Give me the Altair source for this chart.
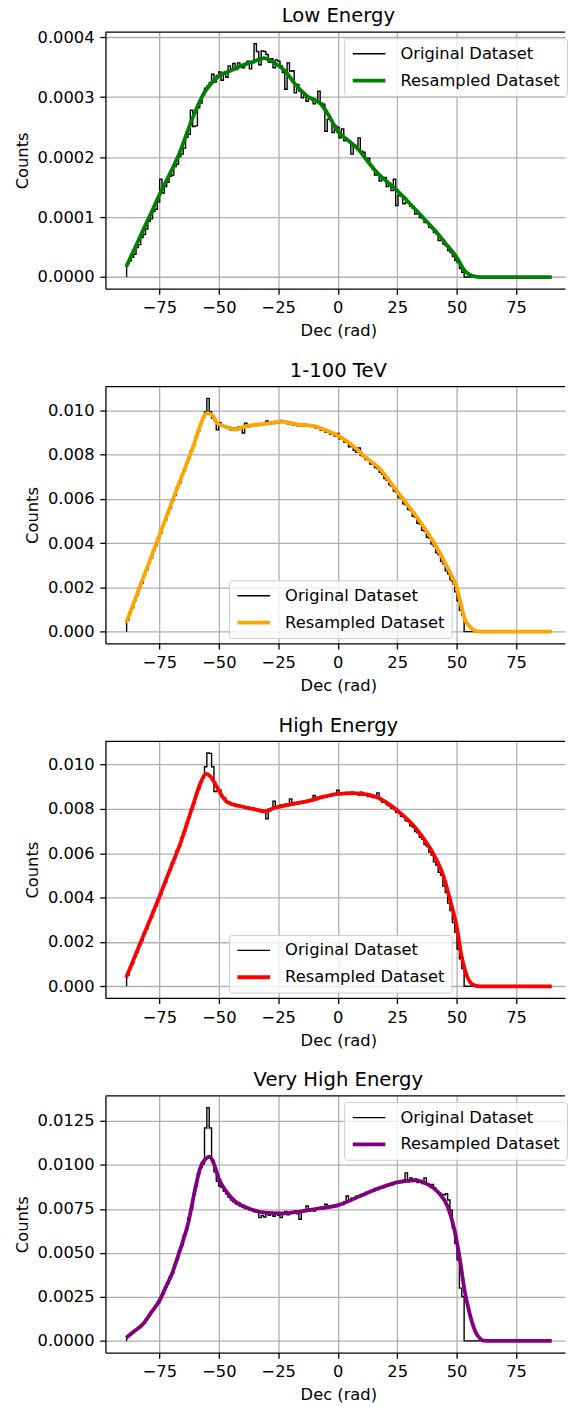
import numpy as np
import pandas as pd
import altair as alt

# ---------------------------------------------------------------------------
# Histogram binning: 180 equal bins across the declination range
N_BINS = 180
BIN_LO, BIN_HI = -88.8, 89.9

# Bins north of the detector horizon are empty in every sample
EMPTY_NORTH = [0, 0, 0, 0, 0, 0, 0, 0, 0, 0, 0, 0, 0, 0, 0, 0, 0, 0, 0,
               0, 0, 0, 0, 0, 0, 0, 0, 0, 0, 0, 0, 0, 0, 0, 0, 0, 0]

# --- Low Energy (counts x 1e-6) ---------------------------------------------
LOW_HIST = [
    22, 27, 33, 38, 49, 54, 66, 71, 80,
    93, 97, 109, 113, 125, 163, 140, 151, 158, 168,
    170, 184, 188, 201, 205, 215, 233, 238, 278, 251,
    252, 282, 290, 303, 315, 318, 324, 338, 325, 336,
    342, 328, 341, 333, 352, 347, 356, 346, 357, 352,
    349, 356, 360, 347, 357, 389, 376, 354, 377, 376,
    371, 358, 364, 349, 362, 360, 352, 341, 313, 357,
    343, 344, 307, 321, 310, 299, 303, 293, 299, 296,
    289, 293, 310, 290, 288, 243, 263, 262, 241, 252,
    250, 232, 247, 227, 228, 226, 205, 220, 218, 232,
    210, 208, 196, 198, 186, 180, 170, 172, 160, 165,
    166, 151, 156, 144, 163, 119, 136, 135, 122, 124,
    124, 118, 115, 105, 107, 99, 98, 91, 91, 83,
    82, 74, 72, 61, 63, 55, 52, 44, 41, 34,
    28, 24, 14, 8,
]
LOW_RES_X = [-89, -85, -82, -78, -75, -72, -70, -66.7, -62.6, -60, -58, -56, -54,
             -52, -50, -47, -44, -40, -35, -31, -27, -22, -18, -13, -7, -4, 0, 4,
             8.6, 13, 17, 21, 25, 29, 33.8, 38, 42.1, 46, 50, 53.3, 55.5, 57.5,
             60, 65, 75, 90]
LOW_RES_Y = [17, 51, 77, 111, 137, 161, 177, 205, 249, 275, 293, 308, 319,
             328, 335, 341, 346, 353, 360, 365, 358, 343, 322, 302, 288, 271, 243, 229,
             213, 191, 172, 158, 144, 128, 108, 90, 72, 53, 33, 11, 4, 1,
             0, 0, 0, 0]

# --- 1-100 TeV (counts x 1e-5) ----------------------------------------------
TEV_HIST = [
    52, 84, 108, 141, 165, 198, 220, 254, 278,
    311, 333, 367, 390, 424, 446, 480, 503, 537, 559,
    593, 615, 650, 672, 706, 728, 763, 785, 819, 844,
    880, 907, 941, 965, 995, 1055, 995, 966, 955, 913,
    945, 930, 931, 921, 925, 912, 920, 913, 925, 917,
    898, 943, 925, 933, 928, 938, 932, 940, 935, 942,
    953, 938, 947, 941, 951, 944, 955, 946, 950, 940,
    946, 935, 942, 931, 939, 930, 938, 929, 935, 927,
    930, 919, 924, 912, 916, 902, 906, 894, 898, 885,
    896, 872, 873, 857, 858, 836, 842, 820, 812, 831,
    796, 792, 778, 776, 758, 760, 742, 738, 720, 712,
    692, 684, 664, 657, 636, 630, 606, 603, 578, 574,
    552, 548, 522, 518, 490, 486, 458, 455, 427, 423,
    396, 386, 356, 347, 318, 307, 275, 262, 230, 215,
    180, 140, 97, 76,
]
TEV_RES_X = [-89, -82, -75, -68, -61.5, -58.4, -56.3, -55, -52.8, -50.7, -47.5,
             -43, -38.8, -30.4, -23.5, -16.5, -11, -5.5, 0, 6.7, 11.2, 17.3,
             24.8, 32.4, 40, 46.1, 50, 52.1, 53.3, 55.2, 58.2, 61, 70, 90]
TEV_RES_Y = [40, 238, 435, 636, 816, 913, 973, 988, 980, 943, 928,
             914, 928, 940, 950, 936, 932, 913, 887, 838, 793, 741,
             636, 531, 411, 291, 201, 111, 60, 28, 3, 0, 0, 0]

# --- High Energy (counts x 1e-5) --------------------------------------------
HIGH_HIST = [
    50, 80, 101, 133, 153, 185, 206, 238, 258,
    290, 310, 342, 362, 394, 415, 448, 469, 503, 524,
    557, 579, 612, 633, 669, 696, 734, 761, 799, 825,
    862, 888, 923, 940, 990, 1052, 1050, 990, 878, 880,
    885, 856, 849, 828, 830, 819, 823, 812, 816, 807,
    812, 803, 808, 799, 805, 794, 798, 790, 795, 786,
    755, 800, 798, 834, 808, 806, 818, 810, 821, 814,
    845, 818, 828, 822, 832, 826, 836, 830, 841, 836,
    860, 842, 852, 848, 858, 852, 862, 858, 868, 862,
    884, 864, 872, 866, 874, 867, 875, 866, 873, 862,
    875, 861, 868, 856, 862, 851, 856, 872, 842, 831,
    832, 818, 814, 803, 800, 784, 782, 766, 764, 746,
    744, 724, 718, 698, 692, 672, 663, 639, 630, 605,
    592, 561, 547, 514, 500, 452, 423, 375, 342, 287,
    244, 168, 124, 80,
]
HIGH_RES_X = [-89, -82, -75, -70, -66, -61.5, -57.7, -55.5, -53.9, -51.7, -49.4,
              -46.4, -41.8, -35.8, -30.5, -26.7, -20.6, -13, -5.5, 0, 6.7, 12.7,
              17.3, 21.8, 26.4, 30.9, 35.5, 40, 44.5, 47.6, 50, 52.1, 54.4, 56.7,
              59.7, 70, 90]
HIGH_RES_Y = [39, 221, 404, 541, 650, 796, 916, 958, 950, 916, 871,
              830, 814, 800, 789, 804, 819, 834, 856, 868, 871, 864,
              849, 819, 781, 736, 676, 601, 496, 376, 271, 136, 46, 9,
              0, 0, 0]

# --- Very High Energy (counts x 1e-5) ---------------------------------------
VHE_HIST = [
    24, 33, 46, 55, 68, 76, 91, 102, 125,
    140, 163, 178, 201, 215, 245, 268, 305, 326, 362,
    385, 432, 462, 515, 545, 600, 635, 700, 752, 830,
    880, 950, 985, 1005, 1209, 1325, 1209, 1025, 960, 907,
    880, 872, 850, 836, 815, 800, 790, 778, 785, 764,
    770, 752, 756, 741, 747, 733, 737, 700, 712, 704,
    731, 714, 722, 708, 726, 713, 700, 722, 735, 716,
    730, 726, 738, 722, 691, 740, 736, 766, 740, 749,
    738, 754, 748, 760, 752, 776, 758, 768, 761, 774,
    768, 781, 775, 790, 823, 797, 810, 806, 822, 818,
    832, 829, 843, 841, 852, 849, 866, 860, 875, 870,
    882, 879, 891, 886, 898, 895, 905, 900, 912, 954,
    905, 926, 915, 920, 900, 910, 893, 926, 889, 880,
    889, 868, 852, 840, 832, 830, 836, 800, 742, 640,
    554, 460, 300, 252,
]
VHE_RES_X = [-89, -85.5, -82, -78.5, -75, -72, -69.6, -67.5, -65.4, -62.6, -61.2,
             -59.8, -57.7, -55.6, -53.9, -52.1, -50, -47.2, -43, -37.4, -30.5,
             -23.5, -16.5, -8.1, 0.3, 8.6, 17, 25.4, 32.4, 37.9, 42.1, 46.3,
             49.1, 51.2, 53.3, 55.4, 58.1, 60, 62, 70, 90]
VHE_RES_Y = [18, 56, 94, 161, 228, 315, 385, 469, 554, 686, 780,
             874, 987, 1034, 1047, 1006, 921, 855, 790, 752, 728,
             724, 733, 752, 771, 818, 865, 902, 912, 889, 846, 761,
             630, 479, 292, 160, 47, 12, 0, 0, 0]

PANELS = [
    dict(title="Low Energy", hist=LOW_HIST, unit=1e-6, rx=LOW_RES_X, ry=LOW_RES_Y,
         color="#008000", yticks=[0, 0.0001, 0.0002, 0.0003, 0.0004], fmt=".4f",
         legend="upper right"),
    dict(title="1-100 TeV", hist=TEV_HIST, unit=1e-5, rx=TEV_RES_X, ry=TEV_RES_Y,
         color="#ffa500", yticks=[0, 0.002, 0.004, 0.006, 0.008, 0.010], fmt=".3f",
         legend="lower center"),
    dict(title="High Energy", hist=HIGH_HIST, unit=1e-5, rx=HIGH_RES_X, ry=HIGH_RES_Y,
         color="#ff0000", yticks=[0, 0.002, 0.004, 0.006, 0.008, 0.010], fmt=".3f",
         legend="lower center"),
    dict(title="Very High Energy", hist=VHE_HIST, unit=1e-5, rx=VHE_RES_X, ry=VHE_RES_Y,
         color="#800080", yticks=[0, 0.0025, 0.0050, 0.0075, 0.0100, 0.0125], fmt=".4f",
         legend="upper right"),
]

# ---------------------------------------------------------------------------
FONT = "DejaVu Sans"
W, H = 462, 258
X_DOMAIN = [-97.7, 95.6]          # right part of the axes runs past the page edge
X_TICKS = [-75, -50, -25, 0, 25, 50, 75]
AX_FULL_W = 468.2                 # full width of the axes box
SERIES = ["Original Dataset", "Resampled Dataset"]
LEG_W, LEG_H, LEG_PAD = 220, 53.2, 8.2


def make_panel(p):
    unit = p["unit"]
    edges = np.linspace(BIN_LO, BIN_HI, N_BINS + 1)
    heights = list(p["hist"]) + EMPTY_NORTH
    xs = [edges[0]] + [edges[k] for k in range(N_BINS)] + [edges[-1]]
    ys = [0.0] + [h * unit for h in heights] + [0.0]
    hist_df = pd.DataFrame({"dec": xs, "counts": ys, "series": SERIES[0],
                            "i": list(range(len(xs)))})
    res_df = pd.DataFrame({"dec": p["rx"], "counts": [v * unit for v in p["ry"]],
                           "series": SERIES[1]})

    top = max(max(heights), max(p["ry"])) * unit
    y_dom = [-0.05 * top, 1.05 * top]

    if p["legend"] == "upper right":
        lx, ly = AX_FULL_W - LEG_PAD - LEG_W, LEG_PAD - 2
    else:
        lx, ly = AX_FULL_W / 2 - LEG_W / 2, H - LEG_PAD - LEG_H - 2

    legend = alt.Legend(
        title=None, orient="none", legendX=lx, legendY=ly,
        symbolType="M-1,0L3.1,0", symbolSize=256,
        labelFont=FONT, labelFontSize=16.4, labelColor="black", labelLimit=0,
        labelOffset=29.9, padding=6.6, rowPadding=8,
        fillColor="rgba(255,255,255,0.8)", strokeColor="#cccccc", cornerRadius=3,
    )
    color = alt.Color("series:N", legend=legend,
                      scale=alt.Scale(domain=SERIES, range=["black", p["color"]]))
    width = alt.StrokeWidth("series:N", legend=legend,
                            scale=alt.Scale(domain=SERIES, range=[1.4, 3.8]))

    x = alt.X("dec:Q", scale=alt.Scale(domain=X_DOMAIN, nice=False, zero=False),
              axis=alt.Axis(values=X_TICKS, format="d", title="Dec (rad)",
                            labelExpr="replace(datum.label, '-', '\u2212')",
                            titleX=AX_FULL_W / 2))
    y = alt.Y("counts:Q", scale=alt.Scale(domain=y_dom, nice=False, zero=False),
              axis=alt.Axis(values=p["yticks"], format=p["fmt"], title="Counts"))

    hist = alt.Chart(hist_df).mark_line(interpolate="step-after").encode(
        x=x, y=y, color=color, strokeWidth=width, order="i:Q")
    res = alt.Chart(res_df).mark_line(interpolate="monotone").encode(
        x="dec:Q", y="counts:Q", color=color, strokeWidth=width)
    frame_top = alt.Chart(pd.DataFrame({"edge": ["top"]})).mark_rule(
        color="black", strokeWidth=1.3).encode(
        x=alt.value(0), x2=alt.value(W), y=alt.value(0))
    # panel heading, centred over the full axes box
    heading = alt.Chart(pd.DataFrame({"t": [p["title"]]})).mark_text(
        font=FONT, fontSize=19.7, color="black", align="center",
        baseline="alphabetic").encode(
        text="t:N", x=alt.value(AX_FULL_W / 2), y=alt.value(-9.8))

    return alt.layer(hist, res, frame_top, heading).properties(width=W, height=H)


chart = alt.vconcat(*[make_panel(p) for p in PANELS], spacing=21.5).resolve_scale(
    x="independent", y="independent", color="independent", strokeWidth="independent"
).resolve_legend(
    color="independent", strokeWidth="independent"
).properties(
    padding={"left": 14, "top": 2.5, "right": 0, "bottom": 0},
    background="white",
).configure_view(stroke=None).configure_axis(
    labelFont=FONT, labelFontSize=16.4, labelColor="black",
    titleFont=FONT, titleFontSize=16.4, titleFontWeight="normal", titleColor="black",
    tickColor="black", tickSize=5.7, tickWidth=1.3,
    domainColor="black", domainWidth=1.3,
    gridColor="#b0b0b0", gridWidth=1.3,
    labelPadding=5.7, titlePadding=6.6,
)

chart.save("out.html", embed_options={"renderer": "svg", "actions": False})
